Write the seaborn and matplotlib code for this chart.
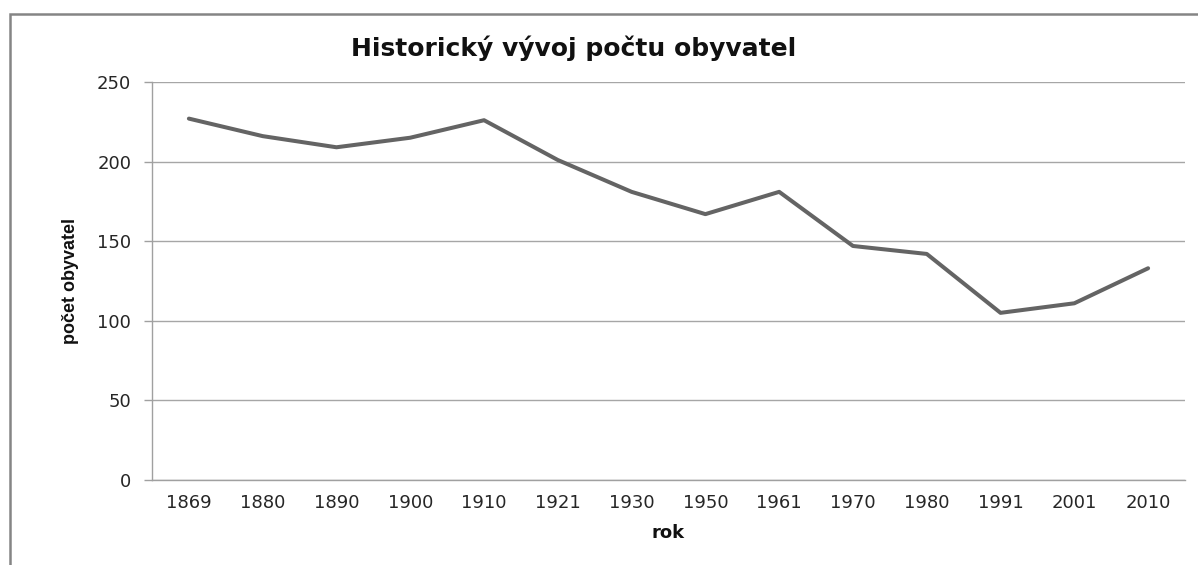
import matplotlib
matplotlib.use("Agg")
import matplotlib.pyplot as plt
import seaborn as sns
import pandas as pd
from matplotlib.patches import Rectangle

years = ["1869", "1880", "1890", "1900", "1910", "1921", "1930",
         "1950", "1961", "1970", "1980", "1991", "2001", "2010"]
population = [227, 216, 209, 215, 226, 201, 181, 167, 181, 147, 142, 105, 111, 133]
y_ticks = [0, 50, 100, 150, 200, 250]

title = "Historický vývoj počtu obyvatel"
x_label = "rok"
y_label = "počet obyvatel"

sns.set_theme(style="white")
plt.rcParams['font.family'] = ['DejaVu Sans']

df = pd.DataFrame({"rok": years, "pocet": population})

fig = plt.figure(figsize=(11.98, 5.65), dpi=100)
ax = fig.add_axes([152/1198, 1-480/565, (1185-152)/1198, (480-82)/565])

sns.lineplot(data=df, x="rok", y="pocet", ax=ax, color="#646464",
             linewidth=2.9, sort=False)

ax.set_xlim(-0.5, len(years) - 0.5)
ax.set_ylim(0, 250)
ax.set_yticks(y_ticks)
ax.yaxis.grid(True, color="#a6a6a6", linewidth=1.0)
ax.xaxis.grid(False)
for side in ["top", "right"]:
    ax.spines[side].set_visible(False)
for side in ["left", "bottom"]:
    ax.spines[side].set_color("#a0a0a0")
    ax.spines[side].set_linewidth(1.0)

ax.tick_params(axis="y", which="both", left=True, length=6, width=1.0,
               color="#a0a0a0", pad=9, labelsize=13, labelcolor="#262626")
ax.tick_params(axis="x", which="both", bottom=False, length=0, pad=10,
               labelsize=13, labelcolor="#262626")

ax.set_xlabel(x_label, fontsize=13, fontweight="bold", labelpad=9,
              color="#111111")
ax.set_ylabel(y_label, fontsize=13, fontweight="bold", labelpad=13,
              color="#111111", family=['Liberation Sans', 'DejaVu Sans'])
ax.set_title(title, fontsize=18, fontweight="bold", x=(574-152)/(1185-152),
             y=(480-48)/398, va="center", pad=0, color="#111111")

frame = Rectangle((9.5/1198, -0.5), 2.0, 1 - 14/565 + 0.5,
                  transform=fig.transFigure, fill=False,
                  edgecolor="#858585", linewidth=1.8, clip_on=False)
fig.patches.append(frame)

fig.savefig("out.png", dpi=100)
